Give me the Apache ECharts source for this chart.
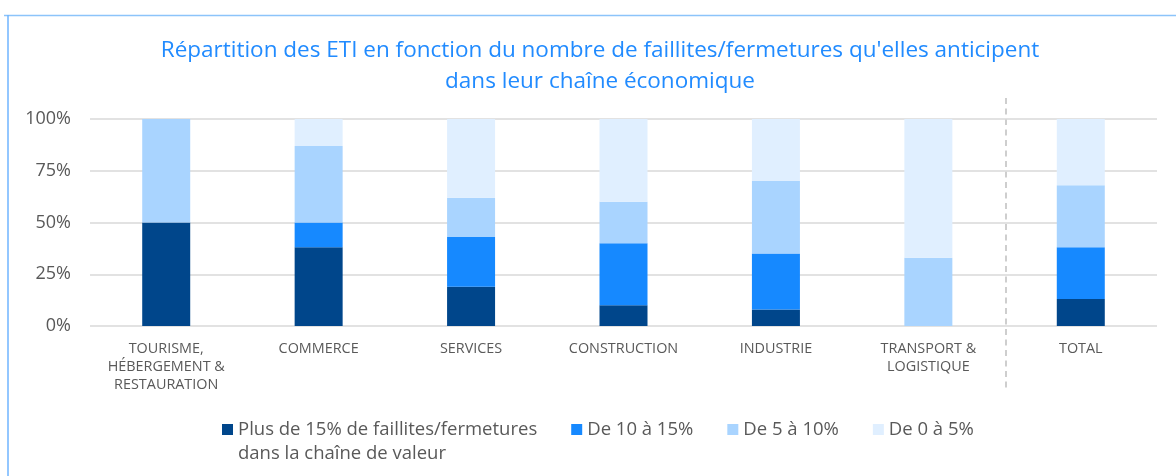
<!DOCTYPE html>
<html><head><meta charset="utf-8">
<script src="https://cdn.jsdelivr.net/npm/echarts@6/dist/echarts.min.js"></script>
<style>html,body{margin:0;padding:0;background:#fff}#c{width:1176px;height:476px}</style>
</head><body><div id="c"></div>
<script>
const categories = ["TOURISME,\nHÉBERGEMENT &\nRESTAURATION", "COMMERCE", "SERVICES", "CONSTRUCTION", "INDUSTRIE", "TRANSPORT &\nLOGISTIQUE", "TOTAL"];
const seriesNames = ["Plus de 15% de faillites/fermetures\ndans la chaîne de valeur", "De 10 à 15%", "De 5 à 10%", "De 0 à 5%"];
const plus15 = [50, 38, 19, 10, 8, 0, 13];
const de10a15 = [0, 12, 24, 30, 27, 0, 25];
const de5a10 = [50, 37, 19, 20, 35, 33, 30];
const de0a5 = [0, 13, 38, 40, 30, 67, 32];
const yTicks = [0, 25, 50, 75, 100];
const colors = ["#00468B", "#1689FF", "#A9D4FF", "#E0EFFF"];
const title = "Répartition des ETI en fonction du nombre de faillites/fermetures qu'elles anticipent\ndans leur chaîne économique";

const chart = echarts.init(document.getElementById('c'), null, {renderer: 'canvas'});
const values = [plus15, de10a15, de5a10, de0a5];
const font = "'Open Sans', 'Noto Sans', sans-serif";
chart.setOption({
  animation: false,
  color: colors,
  textStyle: {fontFamily: font},
  title: {
    text: title,
    left: 595,
    top: 30,
    textAlign: 'center',
    textStyle: {color: '#218BFF', fontSize: 22.5, fontWeight: 'normal', lineHeight: 31, fontFamily: font, align: 'center'}
  },
  legend: {
    left: 217,
    top: 415,
    itemWidth: 11,
    itemHeight: 11,
    itemGap: 34,
    icon: 'rect',
    textStyle: {color: '#595959', fontSize: 18.5, fontFamily: font},
    formatter: n => n.split('\n')[0],
    data: seriesNames
  },
  grid: {left: 90, right: 19, top: 119, bottom: 150, containLabel: false},
  xAxis: {
    type: 'category',
    data: categories,
    axisLine: {show: false},
    axisTick: {show: false},
    axisLabel: {color: '#595959', fontSize: 14.4, lineHeight: 18, margin: 14, interval: 0, fontFamily: font}
  },
  yAxis: {
    type: 'value',
    min: yTicks[0], max: yTicks[yTicks.length - 1], interval: 25,
    axisLine: {show: false},
    axisTick: {show: false},
    splitLine: {lineStyle: {color: '#D9D9D9', width: 1.5}},
    axisLabel: {color: '#595959', fontSize: 18, margin: 19, formatter: '{value}%', fontFamily: font}
  },
  series: seriesNames.map((n, i) => ({
    name: n,
    type: 'bar',
    stack: 'total',
    barWidth: 48,
    data: values[i],
    itemStyle: {color: colors[i]}
  })),
  graphic: [
    {type: 'line', shape: {x1: 4, y1: 15.5, x2: 1176, y2: 15.5}, style: {stroke: '#8CC4FA', lineWidth: 1.5}},
    {type: 'line', shape: {x1: 8, y1: 15, x2: 8, y2: 476}, style: {stroke: '#6FB5FF', lineWidth: 1.5}},
    {type: 'line', shape: {x1: 1006, y1: 98, x2: 1006, y2: 388}, style: {stroke: '#BFBFBF', lineWidth: 1.5, lineDash: [6, 4.5]}},
    {type: 'text', left: 238, top: 444, style: {text: 'dans la chaîne de valeur', fill: '#595959', fontSize: 18.5, fontFamily: font}}
  ]
});
</script></body></html>
